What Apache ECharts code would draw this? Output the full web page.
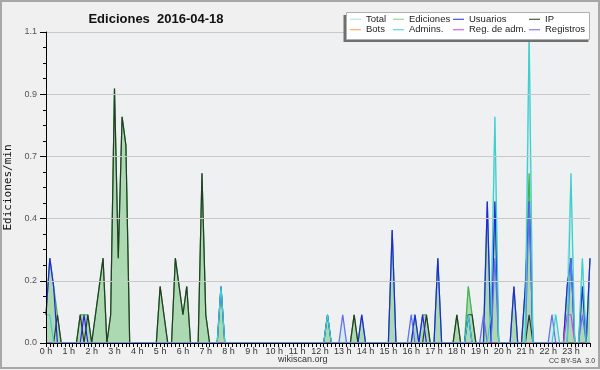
<!DOCTYPE html>
<html><head><meta charset="utf-8">
<script src="https://cdn.jsdelivr.net/npm/echarts@6/dist/echarts.min.js"></script>
<style>html,body{margin:0;padding:0;background:#f0f0f0;}#c{width:600px;height:370px;}</style>
</head><body><div id="c"></div>
<script>
const hourLabels = ['0 h','1 h','2 h','3 h','4 h','5 h','6 h','7 h','8 h','9 h','10 h','11 h','12 h','13 h','14 h','15 h','16 h','17 h','18 h','19 h','20 h','21 h','22 h','23 h'];
const minuteSteps = ['00','10','20','30','40','50'];

// 10-minute bins, edits per minute
const total = [
0.1,0.3,0.2,0.1,0,0,
0,0,0,0.1,0.1,0.1,
0,0.1,0.2,0.3,0,0.1,
0.9,0.3,0.8,0.7,0,0,
0,0,0,0,0,0,
0.2,0.1,0,0,0.3,0.2,
0.1,0.2,0,0,0,0.6,
0.1,0,0,0,0.2,0,
0,0,0,0,0,0,
0,0,0,0,0,0,
0,0,0,0,0,0,
0,0,0,0,0,0,
0,0,0.1,0,0,0,
0.1,0,0,0.1,0,0.1,
0,0,0,0,0,0,
0,0.4,0,0,0,0,
0.1,0.1,0,0.1,0.1,0,
0,0.3,0,0,0,0,
0.1,0,0,0.2,0.1,0,
0,0.1,0.5,0.1,0.8,0,
0,0,0,0.2,0,0,
0.2,1.1,0,0,0,0,
0,0.1,0.1,0,0,0.2,
0.6,0,0,0.3,0,0.3
];
const ediciones = [
0.1,0.3,0.2,0.1,0,0,
0,0,0,0.1,0.1,0.1,
0,0.1,0.2,0.3,0,0.1,
0.9,0.3,0.8,0.7,0,0,
0,0,0,0,0,0,
0.2,0.1,0,0,0.3,0.2,
0.1,0.2,0,0,0,0.6,
0.1,0,0,0,0.2,0,
0,0,0,0,0,0,
0,0,0,0,0,0,
0,0,0,0,0,0,
0,0,0,0,0,0,
0,0,0.1,0,0,0,
0,0,0,0.1,0,0.1,
0,0,0,0,0,0,
0,0.4,0,0,0,0,
0,0.1,0,0.1,0.1,0,
0,0.3,0,0,0,0,
0.1,0,0,0.2,0.1,0,
0,0,0.5,0,0.5,0,
0,0,0,0.2,0,0,
0.2,0.6,0,0,0,0,
0,0,0,0,0,0.2,
0.3,0,0,0.2,0,0.3
];
const usuarios = [
0.1,0.3,0.2,0,0,0,
0,0,0,0,0.1,0,
0,0,0,0,0,0,
0,0,0,0,0,0,
0,0,0,0,0,0,
0,0,0,0,0,0,
0,0,0,0,0,0,
0,0,0,0,0.2,0,
0,0,0,0,0,0,
0,0,0,0,0,0,
0,0,0,0,0,0,
0,0,0,0,0,0,
0,0,0.1,0,0,0,
0,0,0,0,0,0.1,
0,0,0,0,0,0,
0,0.4,0,0,0,0,
0,0.1,0,0.1,0,0,
0,0.3,0,0,0,0,
0,0,0,0.1,0,0,
0,0,0.5,0,0.5,0,
0,0,0,0.2,0,0,
0.2,0.5,0,0,0,0,
0,0,0,0,0,0.2,
0.3,0,0,0.2,0,0.3
];
const ip = [
0,0,0,0.1,0,0,
0,0,0,0.1,0,0.1,
0,0.1,0.2,0.3,0,0.1,
0.9,0.3,0.8,0.7,0,0,
0,0,0,0,0,0,
0.2,0.1,0,0,0.3,0.2,
0.1,0.2,0,0,0,0.6,
0.1,0,0,0,0,0,
0,0,0,0,0,0,
0,0,0,0,0,0,
0,0,0,0,0,0,
0,0,0,0,0,0,
0,0,0,0,0,0,
0,0,0,0.1,0,0,
0,0,0,0,0,0,
0,0,0,0,0,0,
0,0,0,0,0.1,0,
0,0,0,0,0,0,
0.1,0,0,0.1,0.1,0,
0,0,0,0,0,0,
0,0,0,0,0,0,
0,0.1,0,0,0,0,
0,0,0,0,0,0,
0,0,0,0,0,0
];
const bots = [
0,0,0,0,0,0, 0,0,0,0,0,0, 0,0,0,0,0,0, 0,0,0,0,0,0,
0,0,0,0,0,0, 0,0,0,0,0,0, 0,0,0,0,0,0, 0,0,0,0,0,0,
0,0,0,0,0,0, 0,0,0,0,0,0, 0,0,0,0,0,0, 0,0,0,0,0,0,
0,0,0,0,0,0, 0,0,0,0,0,0, 0,0,0,0,0,0, 0,0,0,0,0,0,
0,0,0,0,0,0, 0,0,0,0,0,0, 0,0,0,0,0,0, 0,0,0,0,0,0,
0,0,0,0,0,0, 0,0,0,0,0,0, 0,0,0,0,0,0, 0,0,0,0,0,0
];
const admins = [
0.1,0.1,0,0,0,0,
0,0,0,0,0,0,
0,0,0,0,0,0,
0,0,0,0,0,0,
0,0,0,0,0,0,
0,0,0,0,0,0,
0,0,0,0,0,0,
0,0,0,0,0.2,0,
0,0,0,0,0,0,
0,0,0,0,0,0,
0,0,0,0,0,0,
0,0,0,0,0,0,
0,0,0.1,0,0,0,
0,0,0,0,0,0,
0,0,0,0,0,0,
0,0,0,0,0,0,
0,0,0,0,0,0,
0,0,0,0,0,0,
0,0,0,0.1,0,0,
0,0,0,0.1,0.8,0,
0,0,0,0,0,0,
0,1.1,0,0,0,0,
0,0,0.1,0,0,0,
0.6,0,0,0.3,0,0
];
const regAdm = [
0,0,0,0,0,0, 0,0,0,0,0,0, 0,0,0,0,0,0, 0,0,0,0,0,0,
0,0,0,0,0,0, 0,0,0,0,0,0, 0,0,0,0,0,0, 0,0,0,0,0,0,
0,0,0,0,0,0, 0,0,0,0,0,0, 0,0,0,0,0,0, 0,0,0,0,0,0,
0,0,0,0,0,0, 0,0,0,0,0,0, 0,0,0,0,0,0, 0,0,0,0,0,0,
0,0,0,0,0,0, 0,0,0,0,0,0, 0,0,0,0,0,0, 0,0,0,0,0,0,
0,0,0,0,0,0, 0,0,0,0,0,0,
0,0,0,0,0,0.1,
0.1,0,0,0,0,0
];
const registros = [
0,0,0,0,0,0, 0,0,0,0,0,0, 0,0,0,0,0,0, 0,0,0,0,0,0,
0,0,0,0,0,0, 0,0,0,0,0,0, 0,0,0,0,0,0, 0,0,0,0,0,0,
0,0,0,0,0,0, 0,0,0,0,0,0, 0,0,0,0,0,0, 0,0,0,0,0,0,
0,0,0,0,0,0,
0.1,0,0,0,0,0,
0,0,0,0,0,0,
0,0,0,0,0,0,
0.1,0,0,0,0,0,
0,0,0,0,0,0,
0,0,0,0,0,0,
0,0.1,0,0,0.3,0,
0,0,0,0,0,0,
0,0.5,0,0,0,0,
0,0.1,0,0,0,0,
0.3,0,0,0.1,0,0
];

const categories = [];
hourLabels.forEach(function(h, hi){ minuteSteps.forEach(function(m){ categories.push(hi + ':' + m); }); });

const colors = {
  total: '#a6e3e0', ediciones: '#48b048', usuarios: '#2424e8', ip: '#2a3a2a',
  bots: '#f0a040', admins: '#3ccfcf', regAdm: '#cc44dd', registros: '#6a6af0'
};

function lineSeries(name, data, color, z, extra) {
  return Object.assign({
    name: name, type: 'line', data: data, symbol: 'none', z: z,
    lineStyle: { color: color, width: 1.2 }, itemStyle: { color: color },
    emphasis: { disabled: true }
  }, extra || {});
}

const chart = echarts.init(document.getElementById('c'), null, { renderer: 'canvas' });
const legendFont = { fontFamily: 'Liberation Sans, Arial, sans-serif', fontSize: 9.5, color: '#222', lineHeight: 10.5 };
function legendCol(left, names) {
  return {
    orient: 'vertical', left: left, top: 14, padding: 0, itemGap: 0, z: 95,
    itemWidth: 11, itemHeight: 1, icon: 'rect', selectedMode: false,
    textStyle: legendFont, data: names
  };
}
chart.setOption({
  animation: false,
  backgroundColor: '#f0f0f0',
  title: {
    text: 'Ediciones  2016-04-18', left: 151, top: 8, textAlign: 'center',
    textStyle: { fontFamily: 'Liberation Sans, Arial, sans-serif', fontSize: 13, fontWeight: 'bold', color: '#111' }
  },
  graphic: [
    { type: 'rect', shape: { x: 1, y: 1, width: 598, height: 367 }, style: { fill: 'none', stroke: '#a8a8a8', lineWidth: 2 }, z: 100 },
    { type: 'rect', shape: { x: 343.5, y: 15, width: 245, height: 27 }, style: { fill: '#707070' }, z: 90 },
    { type: 'rect', shape: { x: 346.5, y: 12.5, width: 243, height: 27 }, style: { fill: '#ffffff', stroke: '#b0b0b0', lineWidth: 1 }, z: 91 },
    { type: 'text', left: 278, top: 355, style: { text: 'wikiscan.org', fontFamily: 'Liberation Sans, Arial, sans-serif', fontSize: 9, fill: '#333' }, z: 100 },
    { type: 'text', left: 549, top: 358, style: { text: 'CC BY-SA  3.0', fontFamily: 'Liberation Sans, Arial, sans-serif', fontSize: 7, fill: '#333' }, z: 100 }
  ],
  legend: [
    legendCol(350, [{ name: 'Total', itemStyle: { color: colors.total } }, { name: 'Bots', itemStyle: { color: colors.bots } }]),
    legendCol(393, [{ name: 'Ediciones', itemStyle: { color: '#80d080' } }, { name: 'Admins.', itemStyle: { color: colors.admins } }]),
    legendCol(453, [{ name: 'Usuarios', itemStyle: { color: colors.usuarios } }, { name: 'Reg. de adm.', itemStyle: { color: colors.regAdm } }]),
    legendCol(529, [{ name: 'IP', itemStyle: { color: colors.ip } }, { name: 'Registros', itemStyle: { color: colors.registros } }])
  ],
  grid: { left: 46, right: 10, top: 32, bottom: 27, show: true, backgroundColor: '#eef0f2', borderWidth: 0, containLabel: false, outerBoundsMode: 'none' },
  xAxis: {
    type: 'category', data: categories, boundaryGap: false, z: 10,
    axisLine: { lineStyle: { color: '#000', width: 1 } },
    axisTick: { interval: 0, length: 4, lineStyle: { color: '#000' } },
    axisLabel: {
      interval: 5, margin: 4, fontFamily: 'Liberation Sans, Arial, sans-serif', fontSize: 9, color: '#333',
      formatter: function (v, idx) { return hourLabels[idx / 6] || ''; }
    },
    splitLine: { show: false }
  },
  yAxis: {
    type: 'value', min: 0, max: 1.1, interval: 0.22, z: 10,
    name: 'Ediciones/min', nameLocation: 'middle', nameGap: 29, nameRotate: 90,
    nameTextStyle: { fontFamily: 'DejaVu Sans Mono, monospace', fontSize: 11, color: '#111' },
    axisLine: { show: true, lineStyle: { color: '#000', width: 1 } },
    axisTick: { show: true, length: 6, lineStyle: { color: '#000' } },
    minorTick: { show: true, splitNumber: 4, length: 3, lineStyle: { color: '#000' } },
    axisLabel: {
      margin: 9, fontFamily: 'Liberation Sans, Arial, sans-serif', fontSize: 9, color: '#555',
      formatter: function (v) { return v.toFixed(1); }
    },
    splitLine: { show: true, lineStyle: { color: '#c8c8c8', width: 1 } }
  },
  series: [
    lineSeries('Total', total, colors.total, 1, { areaStyle: { color: 'rgba(150,225,220,0.4)' } }),
    lineSeries('Ediciones', ediciones, colors.ediciones, 2, { areaStyle: { color: 'rgba(97,181,75,0.5)' } }),
    lineSeries('IP', ip, colors.ip, 3),
    lineSeries('Usuarios', usuarios, colors.usuarios, 4),
    lineSeries('Registros', registros, colors.registros, 4),
    lineSeries('Reg. de adm.', regAdm, colors.regAdm, 5),
    lineSeries('Admins.', admins, colors.admins, 5),
    lineSeries('Bots', bots, colors.bots, 2)
  ]
});
</script></body></html>
